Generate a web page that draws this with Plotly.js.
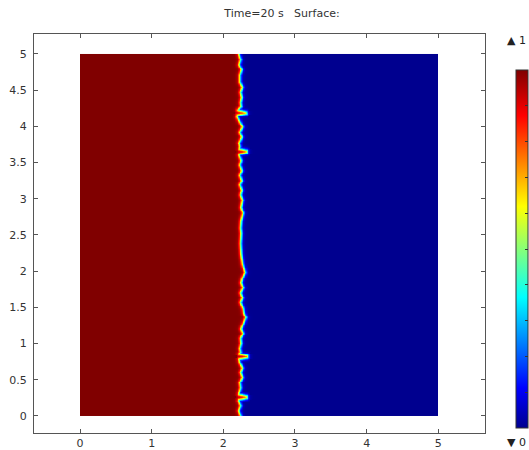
<!DOCTYPE html>
<html>
<head>
<meta charset="utf-8">
<script src="https://cdn.plot.ly/plotly-3.0.1.min.js"></script>
<style>
  html, body { margin: 0; padding: 0; background: #fff; }
  #chart { width: 529px; height: 450px; }
</style>
</head>
<body>
<div id="chart"></div>
<script>
// Interface position (x where phase goes from 1 to 0) read along y
const interfaceY = [0.00, 0.07, 0.14, 0.21, 0.225, 0.248, 0.272, 0.295, 0.32, 0.39, 0.46, 0.53, 0.60, 0.66, 0.73, 0.785, 0.806, 0.834, 0.855, 0.88, 0.93, 1.00,
  1.07, 1.14, 1.20, 1.27, 1.36, 1.42, 1.48, 1.57, 1.63, 1.70, 1.77, 1.84, 1.91, 1.98, 2.10, 2.24, 2.38, 2.52, 2.60, 2.70,
  2.80, 2.88, 2.98, 3.05, 3.12, 3.19, 3.25, 3.32, 3.39, 3.46, 3.53, 3.60, 3.615, 3.636, 3.664, 3.685, 3.72, 3.77, 3.85, 3.92, 3.99,
  4.06, 4.13, 4.155, 4.175, 4.195, 4.22, 4.27, 4.33, 4.40, 4.47, 4.54, 4.61, 4.71, 4.78, 4.85, 4.92, 5.00];
const interfaceX = [2.243, 2.215, 2.243, 2.215, 2.219, 2.331, 2.331, 2.219, 2.223, 2.243, 2.233, 2.271, 2.243, 2.271, 2.233, 2.223, 2.340, 2.340, 2.223, 2.243, 2.233, 2.251,
  2.243, 2.279, 2.251, 2.279, 2.317, 2.289, 2.279, 2.243, 2.271, 2.243, 2.279, 2.251, 2.271, 2.307, 2.271, 2.251, 2.243, 2.251, 2.243, 2.251,
  2.279, 2.251, 2.271, 2.243, 2.261, 2.233, 2.261, 2.233, 2.261, 2.233, 2.251, 2.223, 2.228, 2.331, 2.331, 2.228, 2.233, 2.223, 2.261, 2.233, 2.271,
  2.233, 2.195, 2.200, 2.325, 2.320, 2.205, 2.251, 2.243, 2.261, 2.243, 2.271, 2.233, 2.233, 2.257, 2.223, 2.243, 2.219];
const phaseLeft = 1, phaseRight = 0;
const interfaceWidth = 0.028;
const domainX = [0, 5], domainY = [0, 5];
const colorTickVals = [0, 0.1, 0.2, 0.3, 0.4, 0.5, 0.6, 0.7, 0.8, 0.9, 1];
const axisTicks = [0, 0.5, 1, 1.5, 2, 2.5, 3, 3.5, 4, 4.5, 5];
const xTicks = [0, 1, 2, 3, 4, 5];

const nx = 500, ny = 400;
const xEdges = [], yEdges = [];
for (let i = 0; i <= nx; i++) xEdges.push(domainX[0] + (domainX[1] - domainX[0]) * i / nx);
for (let j = 0; j <= ny; j++) yEdges.push(domainY[0] + (domainY[1] - domainY[0]) * j / ny);

function interfaceAt(y) {
  for (let k = 0; k < interfaceY.length - 1; k++) {
    if (y >= interfaceY[k] && y <= interfaceY[k + 1]) {
      const t = (y - interfaceY[k]) / (interfaceY[k + 1] - interfaceY[k]);
      return interfaceX[k] + t * (interfaceX[k + 1] - interfaceX[k]);
    }
  }
  return y < interfaceY[0] ? interfaceX[0] : interfaceX[interfaceX.length - 1];
}
function distToCurve(x, y) {
  let best = Infinity;
  for (let k = 0; k < interfaceY.length - 1; k++) {
    const ay = interfaceY[k], by = interfaceY[k + 1];
    if (Math.min(ay, by) > y + 0.15 || Math.max(ay, by) < y - 0.15) continue;
    const ax = interfaceX[k], bx = interfaceX[k + 1];
    const vx = bx - ax, vy = by - ay;
    let t = ((x - ax) * vx + (y - ay) * vy) / (vx * vx + vy * vy);
    t = Math.max(0, Math.min(1, t));
    const dx = x - (ax + t * vx), dy = y - (ay + t * vy);
    const d = Math.sqrt(dx * dx + dy * dy);
    if (d < best) best = d;
  }
  return best;
}
const z = [];
for (let j = 0; j < ny; j++) {
  const yc = (yEdges[j] + yEdges[j + 1]) / 2;
  const xi = interfaceAt(yc);
  const row = [];
  for (let i = 0; i < nx; i++) {
    const xc = (xEdges[i] + xEdges[i + 1]) / 2;
    const s0 = xc - xi;
    let s;
    if (Math.abs(s0) > 0.15) s = s0;
    else s = Math.sign(s0 || 1) * distToCurve(xc, yc);
    const f = 0.5 * (1 - Math.tanh(s / interfaceWidth));
    row.push(phaseRight + (phaseLeft - phaseRight) * f);
  }
  z.push(row);
}

const jet = [
  [0, 'rgb(0,0,143)'], [0.111, 'rgb(0,0,255)'], [0.365, 'rgb(0,255,255)'],
  [0.619, 'rgb(255,255,0)'], [0.873, 'rgb(255,0,0)'], [1, 'rgb(128,0,0)']
];

const plotL = 34, plotR = 485, plotT = 34, plotB = 433;
const pw = plotR - plotL, ph = plotB - plotT;

const trace = {
  type: 'heatmap', x: xEdges, y: yEdges, z: z, zmin: 0, zmax: 1,
  colorscale: jet, zsmooth: false, hoverinfo: 'skip',
  colorbar: {
    x: (516 - plotL) / pw, xanchor: 'left',
    y: (plotB - 70) / ph, yanchor: 'top',
    lenmode: 'pixels', len: 358, thicknessmode: 'pixels', thickness: 12,
    xpad: 0, ypad: 0,
    outlinewidth: 1, outlinecolor: '#333',
    tickmode: 'array', tickvals: colorTickVals, ticks: 'inside', ticklen: 3,
    tickcolor: '#333', showticklabels: false
  }
};

const axisCommon = {
  showgrid: false, zeroline: false, showline: true, linecolor: '#555', linewidth: 1,
  mirror: 'ticks', ticks: 'inside', ticklen: 4, tickcolor: '#555',
  tickfont: { family: 'DejaVu Sans', size: 11, color: '#333' }, automargin: false
};

const layout = {
  width: 529, height: 450,
  margin: { l: plotL, r: 529 - plotR, t: plotT, b: 450 - plotB, autoexpand: false },
  paper_bgcolor: '#fff', plot_bgcolor: '#fff',
  title: { text: 'Time=20 s   Surface:', xref: 'container', x: 282 / 529, xanchor: 'center',
    yref: 'container', y: 1 - 13 / 450, yanchor: 'middle',
    font: { family: 'DejaVu Sans', size: 11, color: '#333' } },
  xaxis: Object.assign({}, axisCommon, { range: [-0.642, 5.652], tickmode: 'array', tickvals: xTicks }),
  yaxis: Object.assign({}, axisCommon, { range: [-0.235, 5.276], tickmode: 'array', tickvals: axisTicks, ticklabelstandoff: 4 }),
  annotations: [
    { text: '▲ 1', xref: 'paper', yref: 'paper', x: (505 - plotL) / pw, y: 1 + (plotT - 40) / ph, xanchor: 'left', yanchor: 'middle',
      showarrow: false, font: { family: 'DejaVu Sans', size: 11, color: '#222' } },
    { text: '▼ 0', xref: 'paper', yref: 'paper', x: (505 - plotL) / pw, y: -(443 - plotB) / ph, xanchor: 'left', yanchor: 'middle',
      showarrow: false, font: { family: 'DejaVu Sans', size: 11, color: '#222' } }
  ],
  showlegend: false
};

Plotly.newPlot('chart', [trace], layout, { displayModeBar: false, staticPlot: true });
</script>
</body>
</html>
